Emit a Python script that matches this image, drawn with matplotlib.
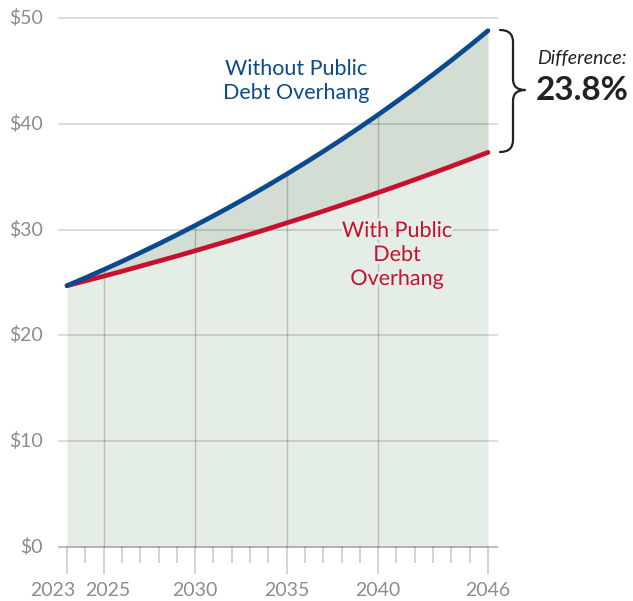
import matplotlib
matplotlib.use("Agg")
import matplotlib.pyplot as plt
from matplotlib.path import Path
from matplotlib.patches import PathPatch
import matplotlib.patheffects as pe

years = list(range(2023, 2047))
without_overhang = [24.70, 25.44, 26.21, 26.99, 27.81, 28.64, 29.50, 30.39, 31.30, 32.24,
                    33.21, 34.21, 35.24, 36.30, 37.39, 38.51, 39.67, 40.86, 42.09, 43.35,
                    44.66, 46.00, 47.38, 48.80]
with_overhang = [24.70, 25.15, 25.60, 26.06, 26.54, 27.02, 27.50, 28.00, 28.51, 29.02,
                 29.55, 30.08, 30.63, 31.18, 31.74, 32.32, 32.90, 33.50, 34.10, 34.72,
                 35.35, 35.99, 36.64, 37.30]
y_ticks = [0, 10, 20, 30, 40, 50]
y_labels = ["$0", "$10", "$20", "$30", "$40", "$50"]
x_major = [2023, 2025, 2030, 2035, 2040, 2046]
x_major_labels = ["2023", "2025", "2030", "2035", "2040", "2046"]
x_grid = [2025, 2030, 2035, 2040]
difference_label = "23.8%"

BLUE = "#0B4A8F"
RED = "#C8102E"
FILL_LOW = "#E5EDE7"
FILL_GAP = "#D3DDD3"
TICK_GRAY = "#8C8C8C"
DARK = "#222222"

plt.rcParams['font.family'] = ['Lato', 'DejaVu Sans']

W, H = 633, 601
fig = plt.figure(figsize=(W / 100, H / 100), dpi=100)
x0, x1 = 67, 488
y0, y1 = 547, 18
ax = fig.add_axes([x0 / W, 1 - y0 / H, (x1 - x0) / W, (y0 - y1) / H])
ax.set_xlim(2023, 2046)
ax.set_ylim(0, 50)
ax.axis("off")

ax.fill_between(years, 0, with_overhang, color=FILL_LOW, lw=0, zorder=1)
ax.fill_between(years, with_overhang, without_overhang, color=FILL_GAP, lw=0, zorder=1)

px_x = 23 / (x1 - x0)   # years per pixel
px_y = 50 / (y0 - y1)   # dollars per pixel

# horizontal gridlines
for v, lab in zip(y_ticks, y_labels):
    alpha = 0.28 if v == 0 else 0.15
    ax.plot([2022.5, 2046.55], [v, v], color="#000000", alpha=alpha, lw=1.3,
            clip_on=False, zorder=2, solid_capstyle="butt")
    ax.text(2023 - 24 * px_x, v, lab, ha="right", va="center",
            fontsize=14, color=TICK_GRAY)

# vertical gridlines up to the upper line
for yr in x_grid:
    top = without_overhang[years.index(yr)]
    ax.plot([yr, yr], [0, top], color="#000000", alpha=0.2, lw=1.0, zorder=2)

# ticks below axis
for yr in years:
    length = 27 if yr in x_major else 16
    ax.plot([yr, yr], [0, -length * px_y], color="#000000", alpha=0.2, lw=1.2,
            clip_on=False, zorder=2, solid_capstyle="butt")
label_shift = {2023: -14, 2025: 4}
for yr, lab in zip(x_major, x_major_labels):
    ax.text(yr + label_shift.get(yr, 0) * px_x, -43 * px_y, lab, ha="center",
            va="center", fontsize=14, color=TICK_GRAY)

ax.plot(years, with_overhang, color=RED, lw=3.4, solid_capstyle="round", zorder=4,
        clip_on=False)
ax.plot(years, without_overhang, color=BLUE, lw=3.4, solid_capstyle="round", zorder=5,
        clip_on=False)

def fx(px):
    return px / W

def fy(py):
    return 1 - py / H

fig.text(fx(296), fy(81), "Without Public\nDebt Overhang", ha="center", va="center",
         fontsize=15.5, color=BLUE, linespacing=1.3)
t = fig.text(fx(397), fy(255), "With Public\nDebt\nOverhang", ha="center", va="center",
             fontsize=15.5, color=RED, linespacing=1.25)
t.set_path_effects([pe.withStroke(linewidth=4, foreground=FILL_LOW)])
t.set_zorder(6)

# curly brace
verts = [
    (500, 30), (513, 30), (513, 42),
    (513, 79),
    (513, 90), (525, 90),
    (513, 90), (513, 101),
    (513, 140),
    (513, 152), (500, 152),
]
codes = [Path.MOVETO, Path.CURVE3, Path.CURVE3, Path.LINETO,
         Path.CURVE3, Path.CURVE3, Path.CURVE3, Path.CURVE3,
         Path.LINETO, Path.CURVE3, Path.CURVE3]
path = Path([(fx(a), fy(b)) for a, b in verts], codes)
fig.patches.append(PathPatch(path, transform=fig.transFigure, fill=False,
                             edgecolor=DARK, lw=1.6, capstyle="round",
                             joinstyle="round"))

fig.text(fx(537), fy(59), "Difference:", ha="left", va="center", fontsize=14,
         style="italic", color=DARK)
fig.text(fx(536), fy(91), difference_label, ha="left", va="center", fontsize=24,
         weight="bold", color=DARK)

fig.savefig("out.png", dpi=100)
